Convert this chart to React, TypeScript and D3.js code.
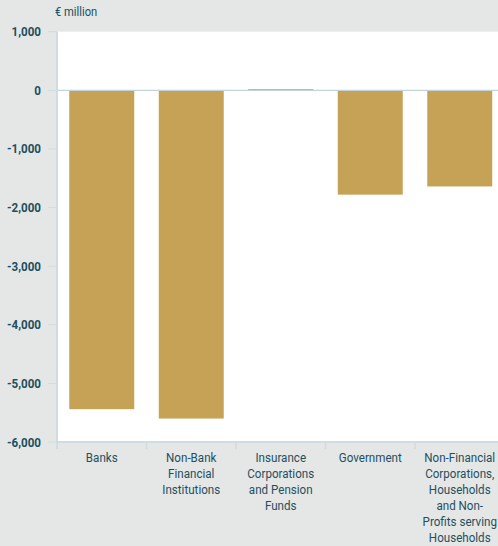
import React from "react";
import * as d3 from "d3";

const categories: string[][] = [
  ["Banks"],
  ["Non-Bank", "Financial", "Institutions"],
  ["Insurance", "Corporations", "and Pension", "Funds"],
  ["Government"],
  ["Non-Financial", "Corporations,", "Households", "and Non-", "Profits serving", "Households"],
];
const values: number[] = [-5440, -5600, 20, -1780, -1640];
const yTicks: number[] = [1000, 0, -1000, -2000, -3000, -4000, -5000, -6000];
const unitLabel = "€ million";

const W = 498;
const H = 546;
const left = 57;
const right = 504.5;
const top = 31.7;
const bottom = 442;
const FONT = "Roboto, 'Liberation Sans', sans-serif";
const TEXT = "#1d4f5e";
const BAR = "#c5a255";
const BG = "#e5e7e7";
const AXIS = "#cfdce1";
const SX = 0.86;

export default function App() {
  const x = d3.scaleBand<number>().domain(d3.range(values.length)).range([left, right]).paddingInner(0.274).paddingOuter(0.137);
  const band = d3.scaleBand<number>().domain(d3.range(values.length)).range([left, right]);
  const y = d3.scaleLinear().domain([-6000, 1000]).range([bottom, top]);
  const fmt = d3.format(",");
  return (
    <svg width={W} height={H} style={{ position: "fixed", left: 0, top: 0, display: "block" }}>
      <rect x={0} y={0} width={W} height={H} fill={BG} />
      <rect x={left} y={top} width={right - left} height={bottom - top} fill="#ffffff" />
      <g transform={`translate(55,16) scale(${SX},1)`}>
        <text x={0} y={0} fontFamily={FONT} fontSize={13} fill={TEXT}>{unitLabel}</text>
      </g>
      {yTicks.map((t) => (
        <g key={t}>
          <line x1={48} x2={left} y1={y(t)} y2={y(t)} stroke={AXIS} strokeWidth={1} />
          <g transform={`translate(41,${y(t) + 4.5}) scale(${SX},1)`}>
            <text x={0} y={0} textAnchor="end" fontFamily={FONT} fontSize={13.5} fontWeight="bold" fill={TEXT}>
              {fmt(t).replace("−", "-")}
            </text>
          </g>
        </g>
      ))}
      {values.map((v, i) => (
        <rect
          key={i}
          x={x(i)}
          width={x.bandwidth()}
          y={y(Math.max(0, v))}
          height={Math.max(1, Math.abs(y(v) - y(0)))}
          fill={BAR}
        />
      ))}
      <line x1={left} x2={right} y1={y(0)} y2={y(0)} stroke="#c2d3d9" strokeWidth={1.2} />
      <line x1={left} x2={left} y1={top} y2={bottom + 7} stroke={AXIS} strokeWidth={2} />
      <line x1={left} x2={right} y1={bottom} y2={bottom} stroke={AXIS} strokeWidth={2} />
      {d3.range(1, values.length).map((i) => (
        <line key={i} x1={band(i)} x2={band(i)} y1={bottom} y2={bottom + 7} stroke={AXIS} strokeWidth={1.5} />
      ))}
      {categories.map((lines, i) => {
        const cx = Math.min((band(i) as number) + band.bandwidth() / 2, 462);
        return (
          <g key={i} transform={`translate(${cx},0) scale(${SX},1)`}>
            <text textAnchor="middle" fontFamily={FONT} fontSize={13.5} fill={TEXT}>
              {lines.map((l, j) => (
                <tspan key={j} x={0} y={462 + j * 16}>{l}</tspan>
              ))}
            </text>
          </g>
        );
      })}
    </svg>
  );
}
